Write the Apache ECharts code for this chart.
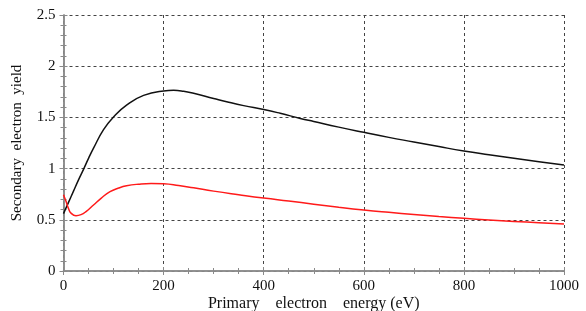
<!DOCTYPE html>
<html>
<head>
<meta charset="utf-8">
<script src="https://cdn.jsdelivr.net/npm/echarts@6/dist/echarts.min.js"></script>
<style>html,body{margin:0;padding:0;background:#fff}#c{width:586px;height:311px}</style>
</head>
<body>
<div id="c"></div>
<script>
var blackEnergy = [0, 10, 20, 30, 40, 50, 60, 80, 100, 126, 160, 200, 220, 240, 260, 300, 326, 360, 400, 433, 473, 500, 550, 600, 650, 700, 750, 800, 850, 900, 950, 1000];
var blackYield  = [0.56, 0.67, 0.78, 0.89, 0.993, 1.10, 1.20, 1.38, 1.505, 1.62, 1.715, 1.758, 1.764, 1.755, 1.735, 1.685, 1.653, 1.615, 1.577, 1.54, 1.49, 1.46, 1.405, 1.354, 1.305, 1.26, 1.215, 1.172, 1.135, 1.10, 1.067, 1.035];
var redEnergy = [0, 5, 10, 15, 25, 35, 45, 60, 75, 93, 110, 126, 150, 175, 200, 230, 260, 300, 350, 400, 450, 500, 550, 600, 650, 700, 750, 800, 850, 900, 950, 1000];
var redYield  = [0.745, 0.68, 0.61, 0.565, 0.54, 0.55, 0.58, 0.645, 0.71, 0.775, 0.81, 0.832, 0.848, 0.855, 0.852, 0.835, 0.812, 0.78, 0.745, 0.712, 0.683, 0.653, 0.623, 0.596, 0.573, 0.552, 0.532, 0.514, 0.498, 0.484, 0.471, 0.459];
var xTicks = [0, 200, 400, 600, 800, 1000];
var yTicks = [0, 0.5, 1, 1.5, 2, 2.5];

function pairs(xs, ys) { return xs.map(function (x, i) { return [x, ys[i]]; }); }

var font = 'Liberation Serif';
var axisLineStyle = { color: '#8a8a8a', width: 1.5 };
var tickStyle = { color: '#8a8a8a' };
var chart = echarts.init(document.getElementById('c'), null, { renderer: 'canvas' });
var gridLine = { show: true, lineStyle: { color: '#444', type: [3, 3], width: 1 } };
chart.setOption({
  animation: false,
  grid: { left: 63.5, right: 22, top: 15, bottom: 40, outerBoundsMode: 'none', containLabel: false },
  xAxis: [{
    type: 'value', min: xTicks[0], max: xTicks[xTicks.length - 1], interval: 200,
    name: 'Primary    electron    energy (eV)', nameLocation: 'middle', nameGap: 25, nameMoveOverlap: false,
    nameTextStyle: { fontFamily: font, fontSize: 16, color: '#111', verticalAlign: 'top' },
    axisLine: { show: true, lineStyle: axisLineStyle },
    axisTick: { show: true, inside: true, length: 4, lineStyle: tickStyle },
    minorTick: { show: true, splitNumber: 4, length: 3, lineStyle: tickStyle },
    axisLabel: { fontFamily: font, fontSize: 15, color: '#111', margin: 8, formatter: function (v) { return String(v); } },
    splitLine: gridLine
  }, {
    type: 'value', position: 'top', min: 0, max: 1000, interval: 200,
    axisLine: { show: true, lineStyle: axisLineStyle },
    axisTick: { show: true, inside: true, length: 4, lineStyle: tickStyle },
    minorTick: { show: true, splitNumber: 4, length: 3, lineStyle: tickStyle },
    axisLabel: { show: false }, splitLine: { show: false }
  }],
  yAxis: [{
    type: 'value', min: yTicks[0], max: yTicks[yTicks.length - 1], interval: 0.5,
    name: 'Secondary  electron  yield', nameLocation: 'middle', nameGap: 39, nameMoveOverlap: false,
    nameTextStyle: { fontFamily: font, fontSize: 15, color: '#111' },
    axisLine: { show: true, lineStyle: axisLineStyle },
    axisTick: { show: true, inside: true, length: 4, lineStyle: tickStyle },
    minorTick: { show: true, splitNumber: 5, length: 3, lineStyle: tickStyle },
    axisLabel: { fontFamily: font, fontSize: 15, color: '#111', margin: 8 },
    splitLine: gridLine
  }, {
    type: 'value', position: 'right', min: 0, max: 2.5, interval: 0.5,
    axisLine: { show: true, lineStyle: axisLineStyle },
    axisTick: { show: true, inside: true, length: 4, lineStyle: tickStyle },
    minorTick: { show: true, splitNumber: 5, length: 3, lineStyle: tickStyle },
    axisLabel: { show: false }, splitLine: { show: false }
  }],
  series: [{
    type: 'line', data: pairs(blackEnergy, blackYield), smooth: 0.5, symbol: 'none',
    lineStyle: { color: '#111', width: 1.5 }
  }, {
    type: 'line', data: pairs(redEnergy, redYield), smooth: 0.5, symbol: 'none',
    lineStyle: { color: '#ff1a1a', width: 1.5 }
  }]
});
</script>
</body>
</html>
